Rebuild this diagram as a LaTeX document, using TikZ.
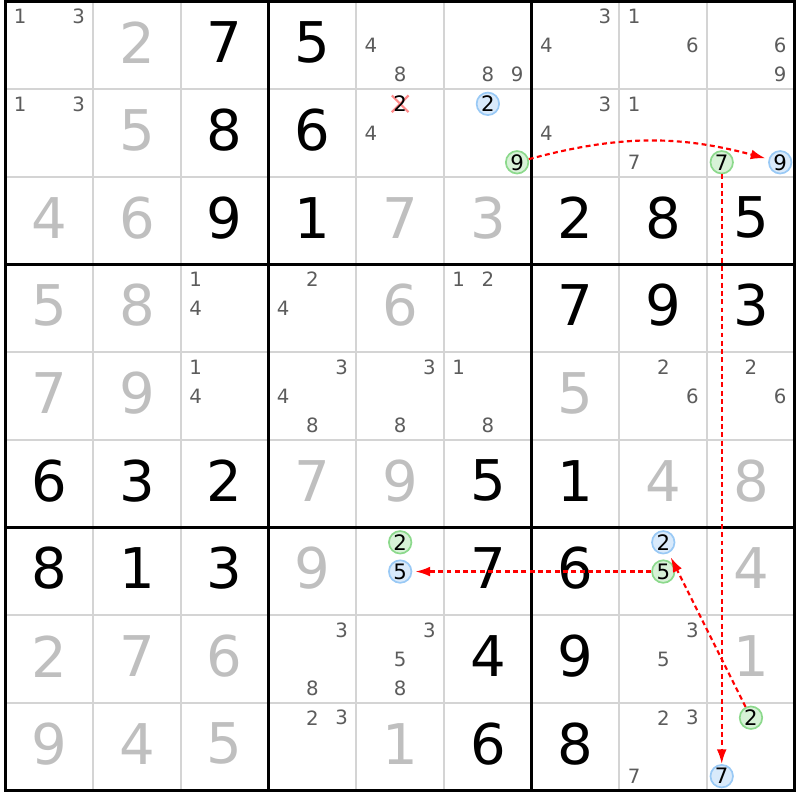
\documentclass[tikz,border=0pt]{standalone}
\usepackage{fontspec}
\setmainfont{DejaVu Sans}
\usetikzlibrary{arrows.meta}

\definecolor{bluering}{HTML}{99C9F5}
\definecolor{bluefill}{HTML}{D9EAFB}
\definecolor{greenring}{HTML}{8CD98C}
\definecolor{greenfill}{HTML}{D7F2D7}
\definecolor{strikered}{HTML}{FF8A8A}

\tikzset{
  cell line/.style={draw=black!17, line width=0.65pt},
  box line/.style={draw=black, line width=0.97pt},
  given/.style={font=\fontsize{18.2}{20}\selectfont, inner sep=0pt},
  solved/.style={given, text=black!25},
  cand/.style={font=\fontsize{6.4}{7}\selectfont, text=black!64, inner sep=0pt},
  bluemark/.style={circle, draw=bluering, fill=bluefill, line width=0.55pt,
    minimum size=7.3pt, inner sep=0pt, font=\fontsize{6.9}{7}\selectfont},
  greenmark/.style={bluemark, draw=greenring, fill=greenfill},
  strike/.style={draw=strikered, line width=0.7pt},
  link/.style={draw=red, line width=0.7pt, dash pattern=on 1.6pt off 1.1pt,
    -{Latex[length=4.8pt,width=3.2pt]}, shorten >=1pt},
}

\begin{document}
\begin{tikzpicture}

  \useasboundingbox (-0.063,0.017) rectangle (9.059,-9.105);

  \foreach \i in {1,2,4,5,7,8} {
    \draw[cell line] (\i,0) -- (\i,-9);
    \draw[cell line] (0,-\i) -- (9,-\i);
  }
  \foreach \i in {3,6} {
    \draw[box line] (\i,0) -- (\i,-9);
    \draw[box line] (0,-\i) -- (9,-\i);
  }
  \draw[box line] (0,0) rectangle (9,-9);

  \foreach \r/\c/\d in {1/3/7,1/4/5,2/3/8,2/4/6,3/3/9,3/4/1,3/7/2,3/8/8,3/9/5,
      4/7/7,4/8/9,4/9/3,6/1/6,6/2/3,6/3/2,6/6/5,6/7/1,7/1/8,7/2/1,7/3/3,
      7/6/7,7/7/6,8/6/4,8/7/9,9/6/6,9/7/8}
    \node[given] (n\r\c) at (\c-0.5,0.535-\r) {\d};

  \foreach \r/\c/\d in {1/2/2,2/2/5,3/1/4,3/2/6,3/5/7,3/6/3,4/1/5,4/2/8,4/5/6,
      5/1/7,5/2/9,5/7/5,6/4/7,6/5/9,6/8/4,6/9/8,7/4/9,7/9/4,8/1/2,8/2/7,
      8/3/6,8/9/1,9/1/9,9/2/4,9/3/5,9/5/1}
    \node[solved] (n\r\c) at (\c-0.5,0.535-\r) {\d};

  \foreach \r/\c/\d in {1/1/1,1/1/3,1/5/4,1/5/8,1/6/8,1/6/9,1/7/3,1/7/4,1/8/1,
      1/8/6,1/9/6,1/9/9,2/1/1,2/1/3,2/5/4,2/7/3,2/7/4,2/8/1,2/8/7,
      4/3/1,4/3/4,4/4/2,4/4/4,4/6/1,4/6/2,5/3/1,5/3/4,5/4/3,5/4/4,5/4/8,
      5/5/3,5/5/8,5/6/1,5/6/8,5/8/2,5/8/6,5/9/2,5/9/6,8/4/3,8/4/8,8/5/3,
      8/5/5,8/5/8,8/8/3,8/8/5,9/4/2,9/4/3,9/8/2,9/8/3,9/8/7}
    \node[cand] (p\r\c\d) at ({\c-1+(2*mod(\d-1,3)+1)/6},{1-\r-(2*floor((\d-1)/3)+1)/6}) {\d};

  \coordinate (x2) at (4.5,-1.1667);
  \draw[strike] ([shift={(-0.095,0.095)}]x2) -- ([shift={(0.095,-0.095)}]x2);
  \draw[strike] ([shift={(-0.095,-0.095)}]x2) -- ([shift={(0.095,0.095)}]x2);
  \node[cand, text=black, font=\fontsize{6.9}{7}\selectfont] (p252) at (x2) {2};

  \foreach \n/\r/\c/\d in {b2x/2/6/2,b9/2/9/9,b5/7/5/5,b2/7/8/2,b7/9/9/7}
    \node[bluemark] (\n) at ({\c-1+(2*mod(\d-1,3)+1)/6},{1-\r-(2*floor((\d-1)/3)+1)/6}) {\d};
  \foreach \n/\r/\c/\d in {g9/2/6/9,g7/2/9/7,g2x/7/5/2,g5/7/8/5,g2/9/9/2}
    \node[greenmark] (\n) at ({\c-1+(2*mod(\d-1,3)+1)/6},{1-\r-(2*floor((\d-1)/3)+1)/6}) {\d};

  \draw[link] (g9) to[bend left=15] (b9);
  \draw[link, shorten >=0pt] (g7) -- (b7);
  \draw[link] (g5) -- (b5);
  \draw[link, shorten >=1.5pt] (g2) -- (b2);

\end{tikzpicture}
\end{document}
